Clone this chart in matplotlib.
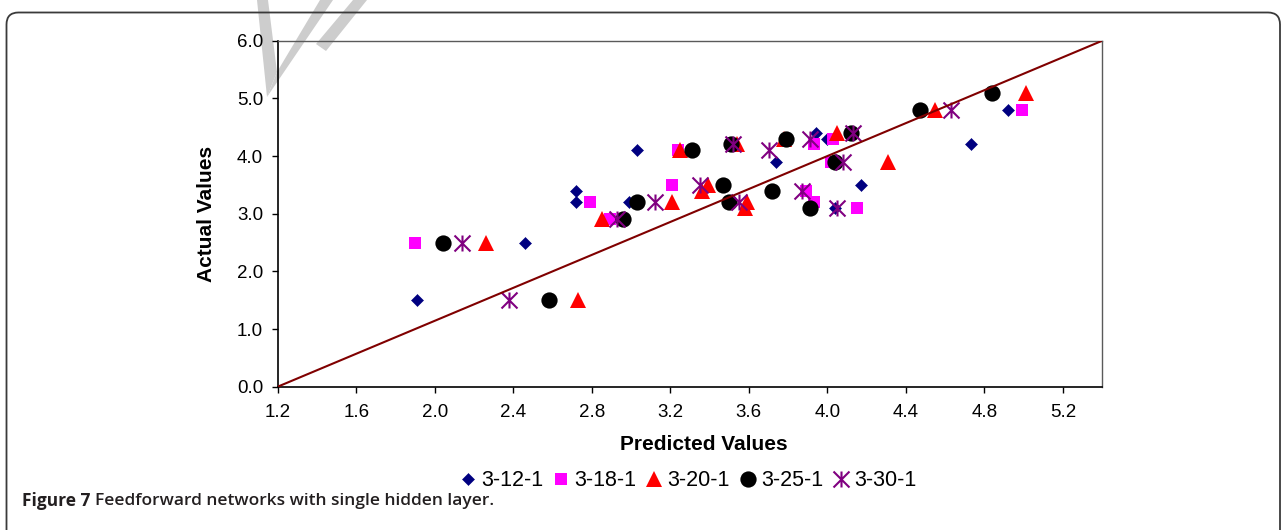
import matplotlib
matplotlib.use('Agg')
import matplotlib.pyplot as plt
from matplotlib.path import Path
from matplotlib.patches import FancyBboxPatch, Polygon
from matplotlib.transforms import IdentityTransform

plt.rcParams['font.family'] = ['Liberation Sans', 'DejaVu Sans']

# ---------------- data ----------------
series_names = ['3-12-1', '3-18-1', '3-20-1', '3-25-1', '3-30-1']

pred_3_12_1 = [1.91, 2.46, 2.72, 2.72, 2.99, 3.03, 3.74, 3.94, 4.00, 4.04, 4.17, 4.73, 4.92]
act_3_12_1  = [1.5,  2.5,  3.4,  3.2,  3.2,  4.1,  3.9,  4.4,  4.3,  3.1,  3.5,  4.2,  4.8]

pred_3_18_1 = [1.90, 2.79, 2.89, 3.21, 3.24, 3.89, 3.93, 3.93, 4.02, 4.03, 4.15, 4.99]
act_3_18_1  = [2.5,  3.2,  2.9,  3.5,  4.1,  3.4,  3.2,  4.2,  3.9,  4.3,  3.1,  4.8]

pred_3_20_1 = [2.73, 2.26, 2.85, 3.21, 3.25, 3.36, 3.39, 3.54, 3.59, 3.58, 3.78, 4.05, 4.31, 4.55, 5.01]
act_3_20_1  = [1.5,  2.5,  2.9,  3.2,  4.1,  3.4,  3.5,  4.2,  3.2,  3.1,  4.3,  4.4,  3.9,  4.8,  5.1]

pred_3_25_1 = [2.58, 2.04, 2.96, 3.03, 3.31, 3.47, 3.50, 3.51, 3.72, 3.79, 3.91, 4.04, 4.12, 4.47, 4.84]
act_3_25_1  = [1.5,  2.5,  2.9,  3.2,  4.1,  3.5,  3.2,  4.2,  3.4,  4.3,  3.1,  3.9,  4.4,  4.8,  5.1]

pred_3_30_1 = [2.38, 2.14, 2.93, 3.12, 3.35, 3.52, 3.55, 3.70, 3.87, 3.91, 4.05, 4.08, 4.13, 4.63]
act_3_30_1  = [1.5,  2.5,  2.9,  3.2,  3.5,  4.2,  3.2,  4.1,  3.4,  4.3,  3.1,  3.9,  4.4,  4.8]

x_ticks = [1.2, 1.6, 2.0, 2.4, 2.8, 3.2, 3.6, 4.0, 4.4, 4.8, 5.2]
y_ticks = [0.0, 1.0, 2.0, 3.0, 4.0, 5.0, 6.0]
x_limits = [1.2, 5.4]
y_limits = [0.0, 6.0]

x_label = 'Predicted Values'
y_label = 'Actual Values'
caption_bold = 'Figure 7'
caption_rest = 'Feedforward networks with single hidden layer.'

# ---------------- figure ----------------
W, H = 1287, 530
fig = plt.figure(figsize=(W / 100, H / 100), dpi=100)

# faint grey watermark fragment at the top edge (page decoration, behind everything)
wm_color = '#cdcdcd'
for poly in [[(257, 0), (268, 0), (277, 72), (267, 97)],
             [(267, 97), (277, 72), (320, 0), (333, 0)],
             [(316, 44), (326, 51), (367, 0), (353, 0)]]:
    fig.add_artist(Polygon([(x, H - y) for x, y in poly], closed=True,
                           transform=IdentityTransform(), facecolor=wm_color,
                           edgecolor='none', zorder=-2))

# outer rounded frame
frame = FancyBboxPatch((6.5, -30), 1280 - 6.5, (H - 12.5) + 30,
                       boxstyle='round,pad=0,rounding_size=12',
                       transform=IdentityTransform(), fill=False,
                       edgecolor='#3a3a3a', linewidth=1.3, zorder=-1)
fig.add_artist(frame)

ax_l, ax_r, ax_t, ax_b = 277.7, 1102.3, 40.7, 386.7
ax = fig.add_axes([ax_l / W, 1 - ax_b / H, (ax_r - ax_l) / W, (ax_b - ax_t) / H])
ax.set_facecolor('none')

star = Path([(0, -1), (0, 1), (-1, -1), (1, 1), (-1, 1), (1, -1)],
            [Path.MOVETO, Path.LINETO, Path.MOVETO, Path.LINETO, Path.MOVETO, Path.LINETO])

styles = [
    dict(marker='D', color='#000080', ms=6.3, mew=0.4, mec='#000080'),
    dict(marker='s', color='#FF00FF', ms=8.4, mew=0.0),
    dict(marker='^', color='#FF0000', ms=12.0, mew=0.0),
    dict(marker='o', color='#000000', ms=11.7, mew=0.0),
    dict(marker=star, color='#800080', ms=11.5, mew=1.5, mec='#800080', mfc='none'),
]
data = [(pred_3_12_1, act_3_12_1), (pred_3_18_1, act_3_18_1), (pred_3_20_1, act_3_20_1),
        (pred_3_25_1, act_3_25_1), (pred_3_30_1, act_3_30_1)]

handles = []
for i, (name, (xs, ys), st) in enumerate(zip(series_names, data, styles)):
    h, = ax.plot(xs, ys, linestyle='none', label=name, zorder=3 + i, **st)
    handles.append(h)

# diagonal reference line (corner to corner)
ax.plot(x_limits, y_limits, color='#800000', lw=1.5, zorder=10)

ax.set_xlim(*x_limits)
ax.set_ylim(*y_limits)
ax.set_xticks(x_ticks)
ax.set_yticks(y_ticks)
ax.set_xticklabels([f'{v:.1f}' for v in x_ticks])
ax.set_yticklabels([f'{v:.1f}' for v in y_ticks])
ax.tick_params(axis='both', direction='out', length=4.5, width=1, labelsize=13.5, colors='black')
ax.tick_params(axis='x', pad=8)
ax.tick_params(axis='y', pad=6)
for s in ['left', 'bottom']:
    ax.spines[s].set_color('black')
    ax.spines[s].set_linewidth(1.2)
for s in ['top', 'right']:
    ax.spines[s].set_color('#5a5a5a')
    ax.spines[s].set_linewidth(1.0)

fig.text(704 / W, 1 - 444 / H, x_label, ha='center', va='center', fontsize=15, fontweight='bold')
fig.text(206 / W, 1 - 213.5 / H, y_label, ha='center', va='center', rotation=90,
         fontsize=15, fontweight='bold')

leg = fig.legend(handles=handles, loc='center', bbox_to_anchor=(689 / W, 1 - 481 / H),
                 ncol=5, frameon=False, fontsize=15.5, handlelength=0.6, handletextpad=0.3,
                 columnspacing=0.55, borderaxespad=0, numpoints=1)

# caption
cap_font = ['Open Sans', 'DejaVu Sans']
t1 = fig.text(22 / W, 1 - 501 / H, caption_bold, ha='left', va='center', fontsize=12.5,
              fontweight='bold', color='#231f20', family=cap_font)
fig.canvas.draw()
bb = t1.get_window_extent()
fig.text((bb.x1 + 5) / W, 1 - 501 / H, caption_rest, ha='left', va='center', fontsize=12.5,
         fontweight='semibold', color='#231f20', family=cap_font)

fig.savefig('out.png', dpi=100, facecolor='white')
